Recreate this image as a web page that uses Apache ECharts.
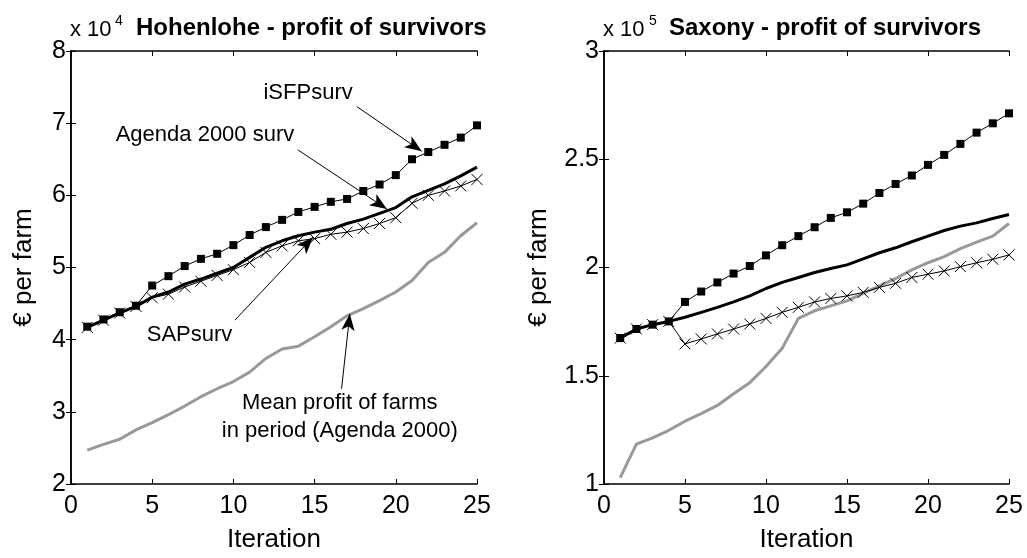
<!DOCTYPE html>
<html>
<head>
<meta charset="utf-8">
<script src="https://cdn.jsdelivr.net/npm/echarts@6/dist/echarts.min.js"></script>
<style>
  html, body { margin: 0; padding: 0; background: #fff; }
  #chart { width: 1027px; height: 558px; }
</style>
</head>
<body>
<div id="chart"></div>
<script>
// iterations 1..25
const iterations = [1, 2, 3, 4, 5, 6, 7, 8, 9, 10, 11, 12, 13, 14, 15, 16, 17, 18, 19, 20, 21, 22, 23, 24, 25];

// Hohenlohe, x 10^4 euro per farm
const hohISFP   = [4.18, 4.28, 4.38, 4.47, 4.75, 4.88, 5.02, 5.12, 5.19, 5.31, 5.45, 5.56, 5.66, 5.77, 5.84, 5.91, 5.95, 6.06, 6.15, 6.28, 6.50, 6.60, 6.70, 6.80, 6.97];
const hohAgenda = [4.17, 4.27, 4.37, 4.46, 4.59, 4.66, 4.77, 4.84, 4.92, 5.00, 5.14, 5.28, 5.37, 5.44, 5.49, 5.53, 5.61, 5.67, 5.75, 5.83, 5.98, 6.07, 6.16, 6.27, 6.39];
const hohSAP    = [4.17, 4.27, 4.37, 4.46, 4.58, 4.63, 4.73, 4.81, 4.89, 4.97, 5.07, 5.21, 5.30, 5.37, 5.40, 5.46, 5.49, 5.54, 5.61, 5.69, 5.89, 6.00, 6.06, 6.13, 6.22];
const hohMean   = [2.47, 2.55, 2.62, 2.75, 2.85, 2.96, 3.08, 3.21, 3.32, 3.42, 3.55, 3.74, 3.87, 3.91, 4.04, 4.18, 4.33, 4.43, 4.54, 4.66, 4.82, 5.07, 5.21, 5.44, 5.62];

// Saxony, x 10^5 euro per farm
const saxISFP   = [1.674, 1.716, 1.736, 1.751, 1.841, 1.889, 1.931, 1.972, 2.007, 2.056, 2.103, 2.145, 2.186, 2.229, 2.255, 2.295, 2.344, 2.386, 2.425, 2.474, 2.520, 2.571, 2.623, 2.666, 2.712];
const saxAgenda = [1.674, 1.716, 1.736, 1.751, 1.770, 1.793, 1.816, 1.841, 1.869, 1.903, 1.931, 1.954, 1.977, 1.995, 2.012, 2.040, 2.068, 2.091, 2.119, 2.145, 2.171, 2.191, 2.206, 2.226, 2.245];
const saxSAP    = [1.674, 1.716, 1.736, 1.751, 1.647, 1.670, 1.693, 1.716, 1.739, 1.765, 1.793, 1.816, 1.841, 1.857, 1.869, 1.885, 1.908, 1.927, 1.954, 1.969, 1.984, 2.004, 2.022, 2.038, 2.058];
const saxMean   = [1.029, 1.184, 1.213, 1.248, 1.290, 1.325, 1.363, 1.417, 1.468, 1.543, 1.627, 1.765, 1.800, 1.823, 1.846, 1.880, 1.915, 1.949, 1.989, 2.022, 2.050, 2.087, 2.117, 2.145, 2.203];

const xTicks = [0, 5, 10, 15, 20, 25];
const hohYTicks = [2, 3, 4, 5, 6, 7, 8];
const saxYTicks = [1, 1.5, 2, 2.5, 3];

// annotations on the Hohenlohe panel (data coords): label, label spot, arrow start, arrow tip
const noteText = ['iSFPsurv', 'Agenda 2000 surv', 'SAPsurv', 'Mean profit of farms\nin period (Agenda 2000)'];
const noteAt   = [[14.6, 7.42], [8.25, 6.84], [7.3, 4.07], [16.55, 2.93]];
const noteFrom = [[17.6, 7.23], [13.97, 6.63], [10.09, 4.27], [16.66, 3.32]];
const noteTo   = [[21.6, 6.61], [19.45, 5.81], [14.9, 5.42], [17.17, 4.36]];

const FONT = 'Liberation Sans, Arial, Helvetica, sans-serif';
const chart = echarts.init(document.getElementById('chart'));

const pairs = ys => iterations.map((x, i) => [x, ys[i]]);

function xAxes(grid) {
  return [{
    gridIndex: grid, type: 'value', min: xTicks[0], max: xTicks[xTicks.length - 1], interval: 5,
    name: 'Iteration', nameLocation: 'middle', nameGap: 43,
    nameTextStyle: { color: '#000', fontSize: 26, fontFamily: FONT },
    axisLine: { lineStyle: { color: '#000', width: 1.5 } },
    axisTick: { inside: true, length: 5, lineStyle: { color: '#000' } },
    axisLabel: { color: '#000', fontSize: 25, fontFamily: FONT, margin: 10 },
    splitLine: { show: false }
  }, {
    gridIndex: grid, type: 'value', position: 'top', min: xTicks[0], max: xTicks[xTicks.length - 1], interval: 5,
    axisLine: { lineStyle: { color: '#000', width: 1.5 } },
    axisTick: { inside: true, length: 5, lineStyle: { color: '#000' } },
    axisLabel: { show: false }, splitLine: { show: false }
  }];
}

function yAxes(grid, ticks, step, gap) {
  return [{
    gridIndex: grid, type: 'value', min: ticks[0], max: ticks[ticks.length - 1], interval: step,
    name: '€ per farm', nameLocation: 'middle', nameGap: gap,
    nameTextStyle: { color: '#000', fontSize: 26, fontFamily: FONT },
    axisLine: { show: true, lineStyle: { color: '#000', width: 1.5 } },
    axisTick: { show: true, inside: true, length: 5, lineStyle: { color: '#000' } },
    axisLabel: { color: '#000', fontSize: 25, fontFamily: FONT, margin: 5 },
    splitLine: { show: false }
  }, {
    gridIndex: grid, type: 'value', position: 'right', min: ticks[0], max: ticks[ticks.length - 1], interval: step,
    axisLine: { show: true, lineStyle: { color: '#000', width: 1.5 } },
    axisTick: { show: true, inside: true, length: 5, lineStyle: { color: '#000' } },
    axisLabel: { show: false }, splitLine: { show: false }
  }];
}

const crossPath = 'path://M0,0L10,10M10,0L0,10';

function panel(grid, mean, sap, agenda, isfp) {
  const xi = grid * 2, yi = grid * 2;
  return [{
    type: 'line', xAxisIndex: xi, yAxisIndex: yi, data: pairs(mean),
    showSymbol: false, lineStyle: { color: '#999', width: 3 }
  }, {
    type: 'line', xAxisIndex: xi, yAxisIndex: yi, data: pairs(sap),
    symbol: crossPath, symbolSize: 11,
    itemStyle: { color: 'none', borderColor: '#000', borderWidth: 1 },
    lineStyle: { color: '#000', width: 1 }
  }, {
    type: 'line', xAxisIndex: xi, yAxisIndex: yi, data: pairs(agenda),
    showSymbol: false, lineStyle: { color: '#000', width: 3 }
  }, {
    type: 'line', xAxisIndex: xi, yAxisIndex: yi, data: pairs(isfp),
    symbol: 'rect', symbolSize: 8,
    itemStyle: { color: '#000' },
    lineStyle: { color: '#000', width: 1 }
  }];
}

const series = [].concat(
  panel(0, hohMean, hohSAP, hohAgenda, hohISFP),
  panel(1, saxMean, saxSAP, saxAgenda, saxISFP)
);

// arrows + labels go on an empty helper series in the left panel
series.push({
  type: 'line', xAxisIndex: 0, yAxisIndex: 0, data: [], silent: true,
  markLine: {
    silent: true, symbol: ['none', 'arrow'], symbolSize: [10, 17],
    label: { show: false },
    lineStyle: { color: '#000', width: 1, type: 'solid' },
    data: noteFrom.map((p, i) => [{ coord: p }, { coord: noteTo[i] }])
  },
  markPoint: {
    silent: true, symbol: 'circle', symbolSize: 1,
    itemStyle: { color: 'transparent' },
    label: { show: true, position: 'inside', color: '#000', fontSize: 22, fontFamily: FONT, lineHeight: 28, align: 'center' },
    data: noteAt.map((p, i) => ({ coord: p, label: { formatter: noteText[i] } }))
  }
});

const scaleStyle = { color: '#000', fontSize: 22, fontWeight: 'normal', fontFamily: FONT };
const supStyle = { color: '#000', fontSize: 14, fontWeight: 'normal', fontFamily: FONT };
const headStyle = { color: '#000', fontSize: 24, fontWeight: 'bold', fontFamily: FONT };

const option = {
  animation: false,
  backgroundColor: '#fff',
  title: [
    { left: 70, top: 19, text: 'x 10', textStyle: scaleStyle, padding: 0 },
    { left: 115, top: 14, text: '4', textStyle: supStyle, padding: 0 },
    { left: 136, top: 16, text: 'Hohenlohe - profit of survivors', textStyle: headStyle, padding: 0 },
    { left: 603, top: 19, text: 'x 10', textStyle: scaleStyle, padding: 0 },
    { left: 649, top: 14, text: '5', textStyle: supStyle, padding: 0 },
    { left: 669, top: 16, text: 'Saxony - profit of survivors', textStyle: headStyle, padding: 0 }
  ],
  grid: [
    { left: 71, top: 51, width: 406, height: 435 },
    { left: 604, top: 51, width: 405, height: 435 }
  ],
  xAxis: [].concat(xAxes(0), xAxes(1)),
  yAxis: [].concat(yAxes(0, hohYTicks, 1, 34), yAxes(1, saxYTicks, 0.5, 52)),
  series: series
};

chart.setOption(option);
</script>
</body>
</html>
